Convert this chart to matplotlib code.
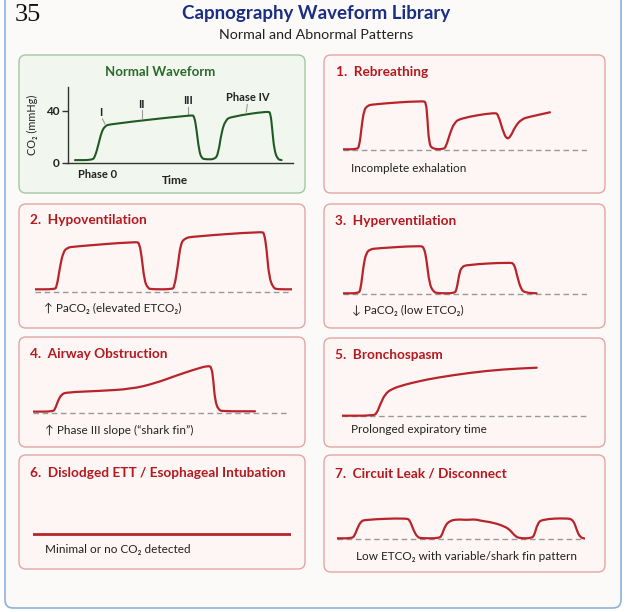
import matplotlib
matplotlib.use("Agg")
import matplotlib.pyplot as plt
from matplotlib.patches import FancyBboxPatch, PathPatch
from matplotlib.path import Path

FONT = ['Lato', 'DejaVu Sans']
plt.rcParams['font.family'] = FONT

W, H = 629, 612

# ---------------- data (time in s, CO2 in mmHg) ----------------
normal_t = [0.67, 2.4, 2.67, 3.0, 3.33, 3.67, 4.17, 12.33, 12.6, 12.83, 13.07, 13.33, 13.73,
            14.67, 15.0, 15.33, 15.73, 16.27, 20.0, 20.23, 20.4, 20.6, 20.93, 21.33]
normal_co2 = [2.0, 2.0, 4.6, 13.6, 23.8, 28.2, 29.7, 36.7, 35.9, 25.1, 9.7, 3.3, 2.6,
              2.6, 7.2, 23.8, 32.8, 35.4, 39.7, 37.9, 25.1, 9.7, 2.6, 2.0]
normal_yticks = [0, 40]

rebreath_t = [0, 1.33, 1.6, 1.83, 2.07, 2.4, 2.83, 8.0, 8.27, 8.4, 8.57, 8.9, 10.0, 10.27,
              10.67, 11.07, 11.67, 15.17, 15.5, 15.93, 16.33, 16.73, 17.17, 17.83, 18.67, 20.67]
rebreath_co2 = [0.7, 0.7, 3.3, 23.3, 40, 44, 45.7, 49.3, 47.3, 33.3, 6.7, 1.0, 0.7, 3.3,
                16.7, 26.7, 31.7, 37.7, 35, 20, 10.7, 13.3, 23.3, 31, 33.3, 37.7]

hypo_t = [0, 1.93, 2.17, 2.5, 2.83, 3.27, 3.83, 10.17, 10.43, 10.67, 10.93, 11.27, 11.67,
          13.67, 13.93, 14.27, 14.57, 15.0, 15.67, 22.67, 22.93, 23.17, 23.4, 23.83, 24.33, 25.67]
hypo_co2 = [3, 3, 5, 25.7, 40.7, 44.7, 45.7, 50.7, 49, 35.7, 12.3, 4, 3,
            3, 5, 25.7, 49, 54, 55.7, 60.7, 59, 42.3, 15.7, 4, 3, 3]

hyper_t = [0, 1.5, 1.73, 2.0, 2.27, 2.67, 3.33, 7.67, 8.07, 8.33, 8.6, 9.0, 9.5,
           11.1, 11.33, 11.6, 11.83, 12.33, 16.67, 17.1, 17.4, 17.77, 18.17, 19.33]
hyper_co2 = [0.7, 0.7, 4, 27.3, 40.7, 44.7, 45.7, 48.3, 46.7, 34, 10.7, 2, 0.7,
             0.7, 4, 20.7, 26.7, 29.3, 31.7, 30, 17.3, 4.7, 1.3, 0.7]

airway_t = [0, 1.93, 2.17, 2.5, 2.83, 3.33, 6.5, 9.83, 12.17, 14.17, 16.17, 17.5, 17.83,
            18.0, 18.17, 18.5, 19.0, 22.17]
airway_co2 = [1.7, 1.7, 4, 13.3, 19, 21, 22.3, 24.3, 30, 37.3, 44, 47.7, 46,
              33.3, 13.3, 3.3, 2, 2]

broncho_t = [0, 3.17, 3.5, 3.83, 4.33, 5.0, 6.17, 7.83, 9.5, 12.83, 16.17, 19.5]
broncho_co2 = [0.3, 0.3, 2.7, 11, 22, 27, 31, 35, 38.3, 43.3, 46.7, 48.3]

dislodged_t = [0, 25.77]
dislodged_co2 = [0, 0]

leak_t = [0, 1.5, 1.77, 2.07, 2.4, 2.83, 7.0, 7.33, 7.67, 8.07, 8.5, 10.27, 10.53, 10.83,
          11.27, 12.0, 13.0, 13.83, 14.33, 15.67, 16.83, 17.33, 17.83, 18.27, 19.5, 19.77,
          20.07, 20.5, 23.0, 23.67, 24.0, 24.33, 24.83]
leak_co2 = [1, 1, 3.3, 11, 17.7, 19.7, 21.3, 18.7, 9.3, 2, 1, 1, 4.3, 13.3,
            18.3, 20, 19.3, 20, 18.7, 16.7, 12.7, 9.3, 3.3, 1, 1, 4.3,
            15.3, 20, 21.3, 19.3, 9.3, 2, 0.7]

# ---------------- colours ----------------
RED = '#b3191f'
WAVE_RED = '#b8242a'
GREEN_WAVE = '#1f5a24'
NAVY = '#1a2e82'
DARK = '#222222'
DASH = '#999999'

fig = plt.figure(figsize=(W / 100, H / 100), dpi=100)
fig.patch.set_facecolor('white')

bg = fig.add_axes([0, 0, 1, 1])
bg.set_xlim(0, W)
bg.set_ylim(H, 0)
bg.axis('off')


def rbox(x0, y0, x1, y1, fc, ec, r=7, lw=1.0, z=1):
    p = FancyBboxPatch((x0, y0), x1 - x0, y1 - y0,
                       boxstyle=f"round,pad=0,rounding_size={r}",
                       fc=fc, ec=ec, lw=lw, zorder=z)
    bg.add_patch(p)


def smooth_wave(ax, t, y, color, lw, z=2):
    """Draw the sampled points as a rounded (quadratic Bezier) path."""
    pts = list(zip(t, y))
    if len(pts) < 3:
        ax.plot(t, y, color=color, lw=lw, solid_capstyle='round', zorder=z)
        return
    verts = [pts[0]]
    codes = [Path.MOVETO]
    mid = lambda a, b: ((a[0] + b[0]) / 2, (a[1] + b[1]) / 2)
    verts.append(mid(pts[0], pts[1]))
    codes.append(Path.LINETO)
    for i in range(1, len(pts) - 1):
        verts += [pts[i], mid(pts[i], pts[i + 1])]
        codes += [Path.CURVE3, Path.CURVE3]
    verts.append(pts[-1])
    codes.append(Path.LINETO)
    patch = PathPatch(Path(verts, codes), fc='none', ec=color, lw=lw,
                      capstyle='round', joinstyle='round', zorder=z)
    ax.add_patch(patch)


# outer frame
rbox(5, -20, 621, 608, '#fbfaf8', '#8db2db', r=8, lw=1.2, z=0)

# header
bg.text(15, 15, '35', fontsize=19, family=['Liberation Serif', 'DejaVu Serif'],
        color='#111111', va='center', ha='left')
bg.text(316, 14, 'Capnography Waveform Library', fontsize=13.5, fontweight='bold',
        color=NAVY, ha='center', va='center')
bg.text(316, 35, 'Normal and Abnormal Patterns', fontsize=10.3, color=DARK,
        ha='center', va='center')

# ---------------- normal panel ----------------
rbox(19, 55, 305, 193, '#f1f7ee', '#a3c79f')
bg.text(160, 72, 'Normal Waveform', fontsize=9.5, fontweight='bold', color='#2c6a2c',
        ha='center', va='center')

axn = fig.add_axes([68.3 / W, 1 - 162.7 / H, 225 / W, 75.4 / H])
axn.patch.set_alpha(0)
smooth_wave(axn, normal_t, normal_co2, GREEN_WAVE, 1.5)
axn.set_xlim(0, 22.5)
axn.set_ylim(0, 58)
axn.set_yticks(normal_yticks)
axn.set_yticklabels([str(v) for v in normal_yticks], fontsize=8.5, fontweight='bold',
                    color=DARK)
axn.set_xticks([])
for s in ['top', 'right']:
    axn.spines[s].set_visible(False)
for s in ['left', 'bottom']:
    axn.spines[s].set_color('#333333')
    axn.spines[s].set_linewidth(1.0)
axn.tick_params(axis='y', length=4, width=1, color='#333333', pad=2)
axn.set_ylabel('CO₂ (mmHg)', fontsize=7.8, color=DARK, labelpad=6)

# phase annotations
bg.text(101, 112, 'I', fontsize=8, fontweight='bold', color=DARK, ha='center', va='center')
bg.plot([102.5, 105], [119, 124], color='#999999', lw=0.8)
bg.text(141, 105, 'II', fontsize=8, fontweight='bold', color=DARK, ha='center', va='center')
bg.plot([141.7, 141.7], [110, 118], color='#999999', lw=0.8)
bg.text(188, 101, 'III', fontsize=8, fontweight='bold', color=DARK, ha='center', va='center')
bg.plot([188.3, 188.3], [107, 114], color='#999999', lw=0.8)
bg.text(248, 97.5, 'Phase IV', fontsize=8, fontweight='bold', color=DARK, ha='center',
        va='center')
bg.plot([247.3, 246.3], [104.5, 112], color='#999999', lw=0.8)
bg.text(98, 174, 'Phase 0', fontsize=8, fontweight='bold', color=DARK, ha='center',
        va='center')
bg.text(175, 181, 'Time', fontsize=8.5, fontweight='bold', color=DARK, ha='center',
        va='center')

# ---------------- abnormal panels ----------------
PINK_FC = '#fdf6f4'
PINK_EC = '#e5a5a5'

panels = [
    ((324, 55, 605, 193), '1.  Rebreathing', (336, 72), 'Incomplete exhalation',
     (350.7, 168.3, 'left'), 343.3, 150.0, 243.3, rebreath_t, rebreath_co2, True),
    ((19, 204, 305, 328), '2.  Hypoventilation', (30, 220), '↑ PaCO₂ (elevated ETCO₂)',
     (44.3, 308.3, 'left'), 35.0, 292.3, 256.7, hypo_t, hypo_co2, True),
    ((324, 204, 605, 328), '3.  Hyperventilation', (335, 221), '↓ PaCO₂ (low ETCO₂)',
     (351.7, 310, 'left'), 343.3, 294.0, 243.3, hyper_t, hyper_co2, True),
    ((19, 337, 305, 447), '4.  Airway Obstruction', (30, 354),
     '↑ Phase III slope (“shark fin”)', (45, 430, 'left'), 33.3, 413.3, 255.0,
     airway_t, airway_co2, True),
    ((324, 338, 605, 447), '5.  Bronchospasm', (335, 355), 'Prolonged expiratory time',
     (350.7, 429.3, 'left'), 341.7, 416.0, 245.0, broncho_t, broncho_co2, True),
    ((19, 455, 305, 569), '6.  Dislodged ETT / Esophageal Intubation', (30, 473),
     'Minimal or no CO₂ detected', (45, 549.3, 'left'), 33.3, 534.0, 257.7,
     dislodged_t, dislodged_co2, False),
    ((324, 455, 605, 572), '7.  Circuit Leak / Disconnect', (335, 473),
     'Low ETCO₂ with variable/shark fin pattern', (466.7, 556.7, 'center'), 336.7, 539.3,
     248.3, leak_t, leak_co2, True),
]

YLO, YHI = -5, 65
for (box, title, tpos, desc, dpos, left, base, width, t, co2, dashed) in panels:
    rbox(*box, PINK_FC, PINK_EC)
    bg.text(tpos[0], tpos[1], title, fontsize=9.8, fontweight='bold', color=RED,
            ha='left', va='center')
    bg.text(dpos[0], dpos[1], desc, fontsize=8.5, color=DARK, ha=dpos[2], va='center')
    h = YHI - YLO
    ax = fig.add_axes([left / W, 1 - (base - YLO) / H, width / W, h / H])
    ax.patch.set_alpha(0)
    ax.axis('off')
    ax.set_xlim(0, width / 10)
    ax.set_ylim(YLO, YHI)
    if dashed:
        ax.axhline(0, color=DASH, lw=1.0, dashes=(4, 2.6), zorder=1)
    smooth_wave(ax, t, co2, WAVE_RED, 1.6 if dashed else 2.0)

fig.savefig('out.png', dpi=100, facecolor=fig.get_facecolor())
